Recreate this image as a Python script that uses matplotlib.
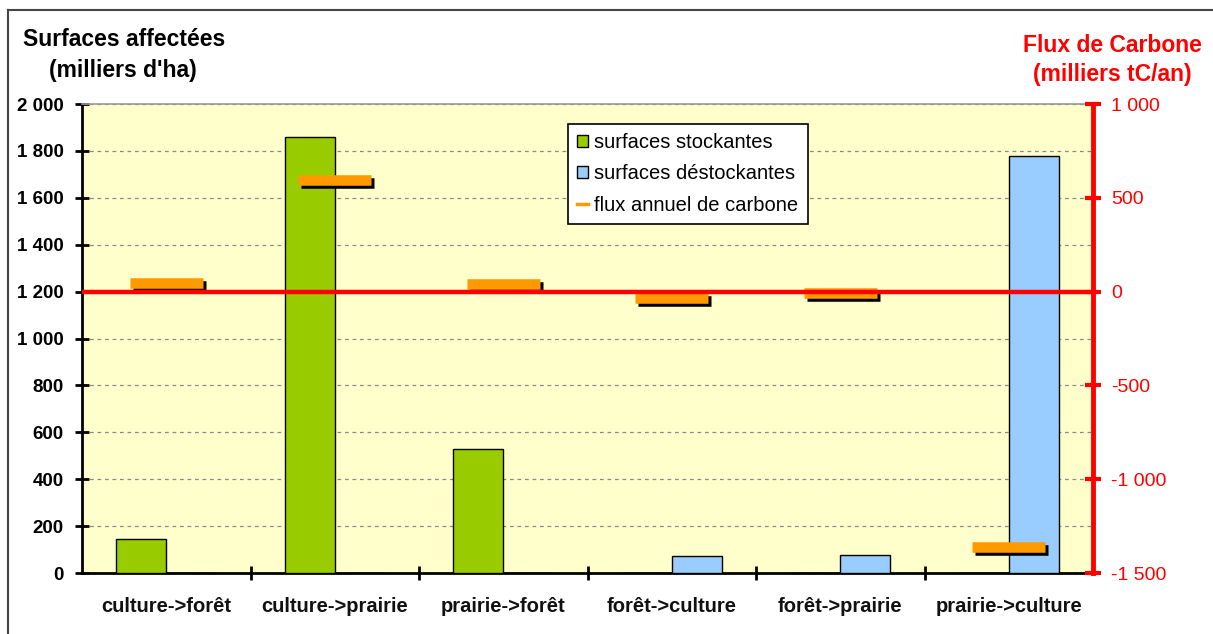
import numpy as np
import matplotlib
matplotlib.use('Agg')
import matplotlib.pyplot as plt
from matplotlib.patches import Patch
from matplotlib.lines import Line2D
from matplotlib.ticker import FuncFormatter
from matplotlib.transforms import offset_copy

plt.rcParams['font.family'] = ['Liberation Sans', 'DejaVu Sans']

# Changements d'usage des sols
categories = ['culture->forêt', 'culture->prairie', 'prairie->forêt',
              'forêt->culture', 'forêt->prairie', 'prairie->culture']
surf_stockantes = [145, 1860, 530, 0, 0, 0]        # milliers d'ha
surf_destockantes = [0, 0, 0, 72, 78, 1778]        # milliers d'ha
flux_carbone = [45, 595, 40, -35, -5, -1360]       # milliers tC/an

GREEN = '#99CC00'
BLUE = '#99CCFF'
ORANGE = '#FF9900'
RED = '#FF0000'


def fmt_milliers(v, pos):
    s = f'{abs(int(round(v))):,}'.replace(',', ' ')
    return ('-' if v < 0 else '') + s


fig = plt.figure(figsize=(12.13, 6.34), dpi=100)
ax = fig.add_axes([82 / 1213, 1 - 573 / 634, (1093 - 82) / 1213, (573 - 104) / 634])
ax2 = ax.twinx()

x = np.arange(len(categories))
w = 0.297

ax.set_facecolor('#FFFFCC')
ax.bar(x - w / 2, surf_stockantes, w, color=GREEN, edgecolor='black', linewidth=1, zorder=3)
ax.bar(x + w / 2, surf_destockantes, w, color=BLUE, edgecolor='black', linewidth=1, zorder=3)

ax.set_xlim(-0.5, len(categories) - 0.5)
ax.set_ylim(0, 2000)
ax.set_yticks(np.arange(0, 2001, 200))
ax.yaxis.set_major_formatter(FuncFormatter(fmt_milliers))
ax.grid(axis='y', color='#8a8a8a', linestyle=(0, (3, 3)), linewidth=0.9, zorder=0)
ax.set_axisbelow(True)

# ticks between categories, labels at the centres
ax.set_xticks(np.arange(0.5, len(categories) - 0.5, 1))
ax.set_xticklabels([])
ax.set_xticks(x, minor=True)
ax.set_xticklabels(categories, minor=True, fontsize=14.5, fontweight='bold', color='#111111')
ax.tick_params(axis='x', which='minor', length=0, pad=17)
ax.tick_params(axis='x', which='major', direction='inout', length=10, width=2, color='black')
ax.tick_params(axis='y', direction='inout', length=10, width=2, color='black', labelsize=13.5, pad=8)
for lab in ax.get_yticklabels():
    lab.set_fontweight('bold')

for side in ['left', 'bottom']:
    ax.spines[side].set_linewidth(2)
    ax.spines[side].set_color('black')
ax.spines['top'].set_color('#9a9a9a')
ax.spines['top'].set_linewidth(1.2)

# right axis: carbon flux
ax2.set_ylim(-1500, 1000)
ax2.set_yticks(np.arange(-1500, 1001, 500))
ax2.yaxis.set_major_formatter(FuncFormatter(fmt_milliers))
ax2.tick_params(axis='y', direction='inout', length=12, width=3, color=RED,
                labelcolor=RED, labelsize=14, pad=7)
ax2.spines['right'].set_color(RED)
ax2.spines['right'].set_linewidth(3.5)
for side in ['left', 'bottom', 'top']:
    ax2.spines[side].set_visible(False)

half = 0.2165
shadow = offset_copy(ax2.transData, fig=fig, x=3, y=-3, units='dots')
ax2.hlines(flux_carbone, x - half, x + half, colors='black', linewidth=7.6,
           transform=shadow, zorder=4)
ax2.hlines(flux_carbone, x - half, x + half, colors=ORANGE, linewidth=7.6, zorder=5)
ax2.axhline(0, color=RED, linewidth=3.2, zorder=6)

handles = [Patch(facecolor=GREEN, edgecolor='black', linewidth=1),
           Patch(facecolor=BLUE, edgecolor='black', linewidth=1),
           Line2D([], [], color=ORANGE, linewidth=2.5)]
labels = ['surfaces stockantes', 'surfaces déstockantes', 'flux annuel de carbone']
leg = ax2.legend(handles, labels, loc='upper left', bbox_to_anchor=(0.481, 0.958),
                 fontsize=14.5, frameon=True, fancybox=False, framealpha=1,
                 edgecolor='black', handlelength=0.55, handleheight=0.55,
                 handletextpad=0.3, labelspacing=0.62, borderpad=0.45,
                 borderaxespad=0)
leg.get_frame().set_linewidth(1.2)
leg.set_zorder(10)

# axis titles
fig.text(124 / 1213, 1 - 40 / 634, 'Surfaces affectées', ha='center', va='center',
         fontsize=16.5, fontweight='bold', color='black')
fig.text(123 / 1213, 1 - 70 / 634, "(milliers d'ha)", ha='center', va='center',
         fontsize=16.5, fontweight='bold', color='black')
fig.text(1112 / 1213, 1 - 45 / 634, 'Flux de Carbone', ha='center', va='center',
         fontsize=16.5, fontweight='bold', color=RED)
fig.text(1112 / 1213, 1 - 74 / 634, '(milliers tC/an)', ha='center', va='center',
         fontsize=16.5, fontweight='bold', color=RED)

# outer frame
fig.add_artist(Line2D([8 / 1213, 1], [1 - 10 / 634] * 2, transform=fig.transFigure,
                      color='#444444', linewidth=1.5))
fig.add_artist(Line2D([8 / 1213] * 2, [0, 1 - 10 / 634], transform=fig.transFigure,
                      color='#444444', linewidth=1.5))

fig.savefig('out.png', dpi=100)
